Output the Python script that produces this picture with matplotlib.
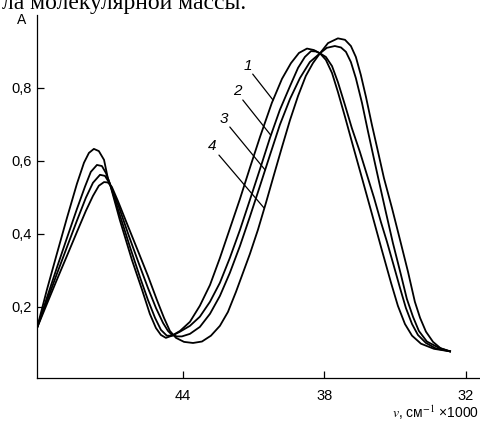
import matplotlib
matplotlib.use("Agg")
import matplotlib.pyplot as plt

plt.rcParams.update({
    "font.family": "Liberation Sans",
    "mathtext.fontset": "stix",
    "font.size": 10,
})

# wavenumber (x1000 cm-1) and absorbance for the four spectra
x1 = [50.17, 49.75, 49.33, 48.90, 48.48, 48.18, 47.97, 47.76, 47.55, 47.33, 47.17, 47.08, 46.66, 46.15,
      45.72, 45.39, 45.13, 44.92, 44.71, 44.45, 44.11, 43.69, 43.27, 42.84, 42.42, 42.00, 41.57, 41.15,
      40.72, 40.22, 39.79, 39.41, 39.07, 38.73, 38.44, 38.18, 37.93, 37.67, 37.42, 37.12, 36.78, 36.40,
      35.98, 35.56, 35.17, 34.88, 34.58, 34.28, 33.90, 33.35, 32.67]
a1 = [0.142, 0.247, 0.345, 0.444, 0.537, 0.595, 0.622, 0.633, 0.627, 0.603, 0.553, 0.537, 0.438, 0.329,
      0.247, 0.181, 0.142, 0.123, 0.115, 0.121, 0.134, 0.159, 0.203, 0.260, 0.334, 0.414, 0.496, 0.581,
      0.666, 0.759, 0.825, 0.868, 0.896, 0.908, 0.904, 0.895, 0.877, 0.841, 0.789, 0.721, 0.641, 0.553,
      0.455, 0.356, 0.266, 0.203, 0.153, 0.121, 0.099, 0.085, 0.078]

x2 = [50.17, 49.75, 49.33, 48.90, 48.48, 48.14, 47.89, 47.63, 47.42, 47.25, 47.08, 46.70, 46.23, 45.81,
      45.47, 45.17, 44.92, 44.67, 44.45, 44.11, 43.69, 43.27, 42.84, 42.42, 42.00, 41.57, 41.15, 40.72,
      40.30, 39.88, 39.45, 39.11, 38.82, 38.56, 38.35, 38.18, 37.93, 37.67, 37.42, 37.12, 36.83, 36.49,
      36.19, 35.89, 35.60, 35.34, 35.05, 34.79, 34.54, 34.28, 34.03, 33.69, 33.27, 32.67]
a2 = [0.142, 0.225, 0.307, 0.389, 0.468, 0.529, 0.570, 0.589, 0.586, 0.567, 0.537, 0.460, 0.364, 0.282,
      0.219, 0.170, 0.137, 0.121, 0.121, 0.132, 0.148, 0.173, 0.214, 0.266, 0.334, 0.411, 0.493, 0.578,
      0.663, 0.740, 0.805, 0.855, 0.885, 0.901, 0.900, 0.895, 0.885, 0.860, 0.816, 0.753, 0.690, 0.625,
      0.562, 0.499, 0.433, 0.378, 0.312, 0.252, 0.197, 0.153, 0.123, 0.101, 0.086, 0.078]

x3 = [50.17, 49.75, 49.33, 48.90, 48.48, 48.10, 47.80, 47.50, 47.29, 47.08, 46.70, 46.28, 45.85, 45.47,
      45.13, 44.83, 44.62, 44.45, 44.24, 44.03, 43.69, 43.27, 42.84, 42.42, 42.00, 41.57, 41.15, 40.72,
      40.30, 39.88, 39.45, 39.03, 38.61, 38.18, 37.89, 37.55, 37.29, 37.08, 36.87, 36.66, 36.40, 36.15,
      35.89, 35.64, 35.39, 35.09, 34.75, 34.50, 34.24, 33.99, 33.65, 33.18, 32.67]
a3 = [0.142, 0.216, 0.290, 0.364, 0.436, 0.499, 0.540, 0.562, 0.559, 0.537, 0.474, 0.395, 0.318, 0.252,
      0.197, 0.156, 0.134, 0.123, 0.119, 0.119, 0.126, 0.145, 0.181, 0.230, 0.293, 0.367, 0.447, 0.532,
      0.616, 0.699, 0.770, 0.827, 0.871, 0.895, 0.910, 0.915, 0.911, 0.899, 0.871, 0.827, 0.759, 0.682,
      0.605, 0.532, 0.460, 0.375, 0.288, 0.222, 0.173, 0.134, 0.105, 0.089, 0.078]

x4 = [50.17, 49.75, 49.33, 48.90, 48.48, 48.10, 47.80, 47.55, 47.33, 47.17, 47.00, 46.74, 46.32, 45.89,
      45.47, 45.09, 44.79, 44.54, 44.28, 43.94, 43.56, 43.18, 42.80, 42.42, 42.08, 41.74, 41.49, 41.15,
      40.81, 40.47, 40.13, 39.79, 39.45, 39.11, 38.78, 38.48, 38.18, 37.84, 37.42, 37.12, 36.87, 36.66,
      36.45, 36.23, 35.98, 35.72, 35.47, 35.13, 34.79, 34.45, 34.16, 33.94, 33.69, 33.39, 33.06, 32.67]
a4 = [0.142, 0.208, 0.274, 0.340, 0.405, 0.463, 0.504, 0.532, 0.542, 0.541, 0.529, 0.490, 0.422, 0.353,
      0.285, 0.219, 0.170, 0.134, 0.115, 0.104, 0.101, 0.105, 0.121, 0.148, 0.186, 0.241, 0.285, 0.345,
      0.411, 0.485, 0.562, 0.638, 0.712, 0.778, 0.833, 0.868, 0.895, 0.923, 0.936, 0.932, 0.915, 0.885,
      0.836, 0.775, 0.699, 0.625, 0.553, 0.471, 0.384, 0.296, 0.214, 0.170, 0.132, 0.104, 0.086, 0.078]

curve_labels = ["1", "2", "3", "4"]
label_pos = [(41.23, 0.860), (41.70, 0.792), (42.25, 0.715), (42.76, 0.641)]
leader_start = [(41.03, 0.838), (41.45, 0.767), (42.00, 0.693), (42.46, 0.616)]
leader_end = [(40.17, 0.767), (40.27, 0.671), (40.50, 0.575), (40.55, 0.471)]

xticks = [44, 38, 32]
yticks = [0.2, 0.4, 0.6, 0.8]
ytick_labels = ["0,2", "0,4", "0,6", "0,8"]

fig = plt.figure(figsize=(4.8, 4.24), dpi=100)
ax = fig.add_axes([37 / 480, 46 / 424, 443 / 480, 363 / 424])

for xs, ys in [(x1, a1), (x2, a2), (x3, a3), (x4, a4)]:
    ax.plot(xs, ys, color="black", lw=1.3, solid_joinstyle="round")

# curve numbers with leader lines
for lab, (tx, ty), s, e in zip(curve_labels, label_pos, leader_start, leader_end):
    ax.text(tx, ty, lab, ha="center", va="center", fontsize=11, fontstyle="italic")
    ax.annotate("", xy=e, xytext=s, arrowprops=dict(arrowstyle="-", lw=0.9, color="black",
                                                      shrinkA=0, shrinkB=0))

ax.set_xlim(50.17, 31.40)
ax.set_ylim(0.005, 1.0)
ax.set_xticks(xticks)
ax.set_xticklabels([str(t) for t in xticks])
ax.set_yticks(yticks)
ax.set_yticklabels(ytick_labels)
ax.tick_params(axis="both", direction="in", length=5, width=0.9, labelsize=10.5)
ax.tick_params(axis="x", pad=8)
ax.tick_params(axis="y", pad=4)
for side in ["top", "right"]:
    ax.spines[side].set_visible(False)
for side in ["left", "bottom"]:
    ax.spines[side].set_linewidth(0.9)

fig.text(22 / 480, 1 - 20 / 424, "A", ha="center", va="center", fontsize=10)
fig.text(479 / 480, 6 / 424, r"$v$, см$^{-1}$ ×1000", ha="right", va="baseline", fontsize=10)
# caption line of the page above the figure, cut by the scan edge
fig.text(2 / 480, 1 - 9 / 424, "ла молекулярной массы.", ha="left", va="baseline",
         fontsize=17, family="Liberation Serif")

fig.savefig("out.png", dpi=100)
